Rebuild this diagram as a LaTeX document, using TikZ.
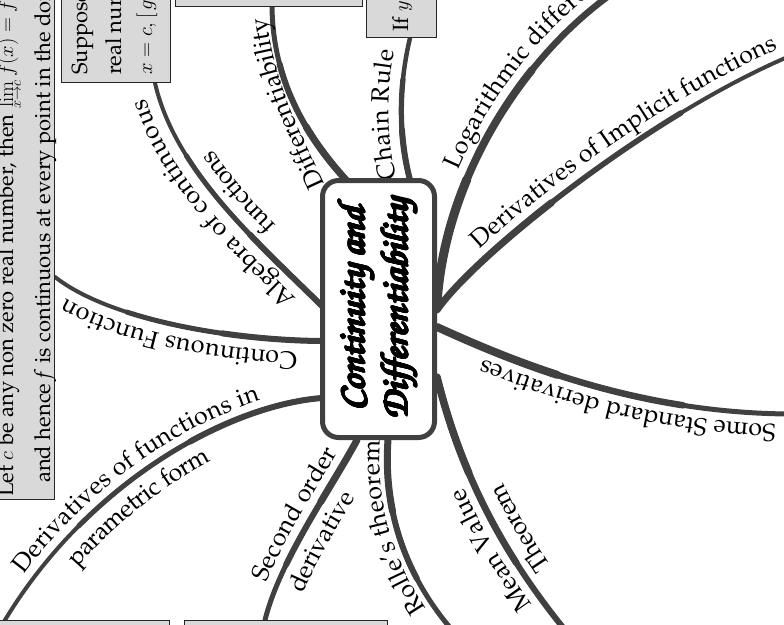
\documentclass[tikz,border=0pt]{standalone}
\usepackage[T1]{fontenc}
\renewcommand{\rmdefault}{ppl}
\usepackage{contour}
\contourlength{1pt}
\usetikzlibrary{decorations.text}
\definecolor{lc}{HTML}{404040}
\definecolor{bx}{HTML}{D9D9D9}
\newcommand\lblfont{\fontsize{25}{30}\selectfont}
\newcommand\bxfont{\fontsize{22}{26}\selectfont}
\newcommand\ctfont{\fontsize{38}{43}\usefont{T1}{pzc}{mb}{it}}
\tikzset{
  br/.style={draw=lc, line width=#1, line cap=round},
  lblA/.style n args={3}{postaction={decorate,decoration={text along path,text={|\lblfont|#1},text align={left indent=#2},raise=#3}}},
  lblB/.style n args={3}{postaction={decorate,decoration={text along path,text={|\lblfont|#1},text align={left indent=#2},raise=#3}}},
  gbox/.style={draw=black!85, fill=bx, line width=1.3pt, inner sep=0pt},
  btxt/.style={rotate=90, anchor=base west, inner sep=0pt, font=\bxfont},
}
% tapered branch: start, control 1, control 2, end, end width, start width, length
\newcommand\taper[7]{%
  \pgfmathsetmacro\tpa{0.7*#7}\pgfmathsetmacro\tpb{0.35*#7}\pgfmathsetmacro\tpw{(#5+#6)/2}%
  \draw[br=#5pt] (#1) .. controls (#2) and (#3) .. (#4);
  \draw[br=\tpw pt, dash pattern=on \tpa pt off 3000pt] (#1) .. controls (#2) and (#3) .. (#4);
  \draw[br=#6pt, dash pattern=on \tpb pt off 3000pt] (#1) .. controls (#2) and (#3) .. (#4);
}
\begin{document}
\begin{tikzpicture}[x=1pt,y=-1pt]
\useasboundingbox (0,0) rectangle (784,624);
\clip (0,0) rectangle (784,624);
% branch end points
\coordinate (s1) at (347,181);  \coordinate (e1) at (272,7);
\coordinate (s2) at (410,180);  \coordinate (e2) at (410,38);
\coordinate (s3) at (437,303);  \coordinate (e3) at (610,-5);
\coordinate (s4) at (437,310);  \coordinate (e4) at (790,56);
\coordinate (s5) at (437,327);  \coordinate (e5) at (790,414);
\coordinate (s6) at (437,377);  \coordinate (e6) at (565,630);
\coordinate (s7) at (388,440);  \coordinate (e7) at (452,630);
\coordinate (s8) at (357,440);  \coordinate (e8) at (265,620);
\coordinate (s9) at (322,398);  \coordinate (e9) at (5,620);
\coordinate (s10) at (320,341); \coordinate (e10) at (55,277);
\coordinate (s11) at (322,306); \coordinate (e11) at (155,83);
\coordinate (d1) at (325,186);  \coordinate (d2) at (265,-5);
% branch lines (from the centre outwards)
\taper{s1}{305,135}{273,80}{e1}{5}{7}{195}
\taper{s2}{397,130}{400,80}{e2}{4.5}{6}{145}
\taper{s3}{445,180}{520,60}{e3}{6.5}{9}{365}
\taper{s4}{475,255}{650,115}{e4}{4}{7}{450}
\taper{s5}{520,365}{640,413}{e5}{5}{8}{370}
\taper{s6}{460,470}{500,550}{e6}{6}{7.5}{290}
\taper{s7}{383,510}{405,575}{e7}{5}{7}{205}
\taper{s8}{330,490}{280,560}{e8}{5}{7}{205}
\taper{s9}{230,405}{90,480}{e9}{4}{6}{400}
\taper{s10}{230,340}{110,320}{e10}{4}{6}{280}
\taper{s11}{255,240}{175,170}{e11}{4}{6}{290}
% branch labels
\path[lblA={Differentiability}{2pt}{0pt}] (d1) .. controls (305,140) and (268,80) .. (d2);
\path[lblA={Chain Rule}{4pt}{13pt}] (s2) .. controls (397,130) and (400,80) .. (e2);
\path[lblA={Logarithmic differentiation}{132pt}{12pt}] (s3) .. controls (445,180) and (520,60) .. (e3);
\path[lblA={Derivatives of Implicit functions}{72pt}{11pt}] (s4) .. controls (475,255) and (650,115) .. (e4);
\path[lblA={Some Standard derivatives}{14pt}{11pt}] (e5) .. controls (640,413) and (520,365) .. (s5);
\path[lblA={Mean Value}{40pt}{11pt}, lblB={Theorem}{62pt}{-27pt}] (e6) .. controls (500,550) and (460,470) .. (s6);
\path[lblA={Rolle's theorem}{32pt}{8pt}] (e7) .. controls (405,575) and (383,510) .. (s7);
\path[lblA={Second order}{35pt}{11pt}, lblB={derivative}{40pt}{-27pt}] (e8) .. controls (280,560) and (330,490) .. (s8);
\path[lblA={Derivatives of functions in}{47pt}{10pt}, lblB={parametric form}{88pt}{-27pt}] (e9) .. controls (90,480) and (230,405) .. (s9);
\path[lblA={Continuous Function}{22pt}{12pt}] (s10) .. controls (230,340) and (110,320) .. (e10);
\path[lblA={Algebra of continuous}{24pt}{13pt}, lblB={functions}{90pt}{-25pt}] (s11) .. controls (255,240) and (175,170) .. (e11);
% boxes
\node[gbox, anchor=south east, minimum width=90pt, minimum height=530pt] (b1) at (55,500) {};
\node[gbox, anchor=south east, minimum width=109pt, minimum height=100pt] (b2) at (171,83) {};
\node[gbox, anchor=south west, minimum width=187pt, minimum height=30pt] (b3) at (175,7) {};
\node[gbox, anchor=south west, minimum width=70pt, minimum height=60pt] (b4) at (366,38) {};
\node[gbox, anchor=north east, minimum width=190pt, minimum height=30pt] (b5) at (170,620) {};
\node[gbox, anchor=north west, minimum width=203pt, minimum height=30pt] (b6) at (184,620) {};
\node[btxt] (t1a) at (13,497) {Let $c$ be any non zero real number, then $\lim\limits_{x\to c} f(x)=f(c)$};
\node[btxt] (t1b) at (50,483) {and hence \textit{f} is continuous at every point in the domain};
\node[btxt] (t2a) at (87,75) {Suppose $f$ and $g$ be two};
\node[btxt] (t2b) at (121,75) {real numbers such};
\node[btxt] (t2c) at (152,75) {$x=c,\Big[\,g(x)$};
\node[btxt] (t4) at (408,32) {If $y=f(u)$};
% centre
\node[draw=lc, fill=white, line width=5pt, rounded corners=16pt, rotate=90,
      minimum width=257pt, minimum height=112pt, inner sep=0pt, align=center, font=\ctfont]
  (c) at (378.5,309) {\contour{black}{Continuity and}\\\contour{black}{Differentiability}};
\end{tikzpicture}
\end{document}
